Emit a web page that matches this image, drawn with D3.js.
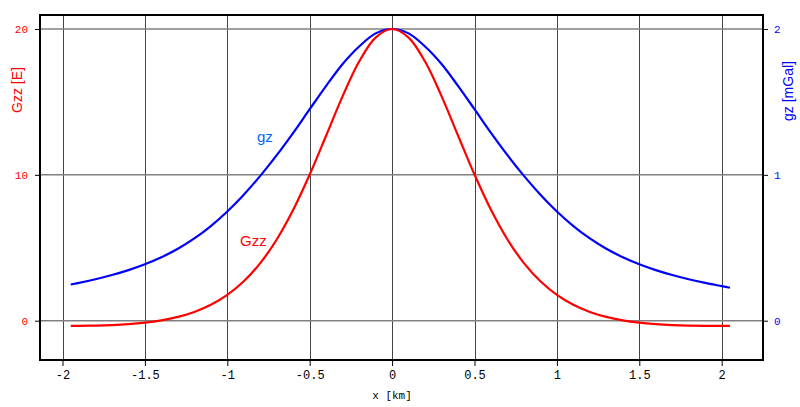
<!DOCTYPE html>
<html>
<head>
<meta charset="utf-8">
<script src="https://cdn.jsdelivr.net/npm/d3@7"></script>
<style>
  body { margin: 0; background: #fff; }
  svg { display: block; }
</style>
</head>
<body>
<div id="chart"></div>
<script>

/* - - - data - - - */

var xKm = [-1.95, -1.9, -1.8, -1.7, -1.6, -1.5, -1.4, -1.3, -1.2, -1.1, -1.0,
           -0.9, -0.8, -0.7, -0.6, -0.5, -0.4, -0.3, -0.2, -0.1, 0,
           0.1, 0.2, 0.3, 0.4, 0.5, 0.6, 0.7, 0.8, 0.9, 1.0,
           1.1, 1.2, 1.3, 1.4, 1.5, 1.6, 1.7, 1.8, 1.9, 2.0, 2.05];

var gzz = [-0.357, -0.353, -0.335, -0.298, -0.234, -0.131, 0.027, 0.261, 0.602, 1.09, 1.77,
           2.70, 3.95, 5.57, 7.60, 10.02, 12.70, 15.40, 17.77, 19.41, 20.0,
           19.41, 17.77, 15.40, 12.70, 10.02, 7.60, 5.57, 3.95, 2.70, 1.77,
           1.09, 0.602, 0.261, 0.027, -0.131, -0.234, -0.298, -0.335, -0.353, -0.358, -0.357];

var gz = [0.248, 0.259, 0.284, 0.313, 0.347, 0.387, 0.435, 0.493, 0.564, 0.649, 0.749,
          0.864, 0.993, 1.135, 1.288, 1.45, 1.61, 1.76, 1.88, 1.97, 2.0,
          1.97, 1.88, 1.76, 1.61, 1.45, 1.288, 1.135, 0.993, 0.864, 0.749,
          0.649, 0.564, 0.493, 0.435, 0.387, 0.347, 0.313, 0.284, 0.259, 0.237, 0.226];

var xTicks = [-2, -1.5, -1, -0.5, 0, 0.5, 1, 1.5, 2];
var gzzTicks = [0, 10, 20];
var gzTicks = [0, 1, 2];

/* - - - svg - - - */

var width = 800, height = 407;
var box = { left: 40, top: 15, right: 763, bottom: 360 };

var svg = d3.select('#chart')
            .append('svg')
            .attr('width', width)
            .attr('height', height);

var x = d3.scaleLinear().domain([-2, 2]).range([62.5, 721.7]);
var yL = d3.scaleLinear().domain([0, 20]).range([320.7, 29]);
var yR = d3.scaleLinear().domain([0, 2]).range([320.7, 29]);

// grid
svg.append('g').selectAll('line')
   .data(xTicks)
   .enter()
   .append('line')
   .attr('x1', function (d) { return Math.round(x(d)) + 0.5; })
   .attr('x2', function (d) { return Math.round(x(d)) + 0.5; })
   .attr('y1', box.top)
   .attr('y2', box.bottom)
   .attr('stroke', '#444')
   .attr('stroke-width', 1);

svg.append('g').selectAll('line')
   .data(gzzTicks)
   .enter()
   .append('line')
   .attr('x1', box.left)
   .attr('x2', box.right)
   .attr('y1', function (d) { return yL(d); })
   .attr('y2', function (d) { return yL(d); })
   .attr('stroke', '#808080')
   .attr('stroke-width', 1.5);

// axes
var font = '"Liberation Mono", "DejaVu Sans Mono", monospace';

var xAxis = svg.append('g')
   .attr('transform', 'translate(0,' + box.bottom + ')')
   .call(d3.axisBottom(x).tickValues(xTicks).tickSize(6).tickPadding(4)
           .tickFormat(function (d) { return String(d); }));
xAxis.select('.domain').remove();
xAxis.selectAll('line').attr('stroke', '#000');
xAxis.selectAll('text').attr('font-family', font).attr('font-size', 12).attr('fill', '#000');

var leftAxis = svg.append('g')
   .attr('transform', 'translate(' + box.left + ',0)')
   .call(d3.axisLeft(yL).tickValues(gzzTicks).tickSize(5).tickPadding(7)
           .tickFormat(function (d) { return String(d); }));
leftAxis.select('.domain').remove();
leftAxis.selectAll('line').attr('stroke', '#000');
leftAxis.selectAll('text').attr('font-family', font).attr('font-size', 11).attr('fill', '#ff0000');

var rightAxis = svg.append('g')
   .attr('transform', 'translate(' + box.right + ',0)')
   .call(d3.axisRight(yR).tickValues(gzTicks).tickSize(5).tickPadding(6)
           .tickFormat(function (d) { return String(d); }));
rightAxis.select('.domain').remove();
rightAxis.selectAll('line').attr('stroke', '#000');
rightAxis.selectAll('text').attr('font-family', font).attr('font-size', 11).attr('fill', '#0000ff');

// curves
var gzLine = d3.line()
   .x(function (d, i) { return x(xKm[i]); })
   .y(function (d) { return yR(d); })
   .curve(d3.curveCatmullRom);

var gzzLine = d3.line()
   .x(function (d, i) { return x(xKm[i]); })
   .y(function (d) { return yL(d); })
   .curve(d3.curveCatmullRom);

svg.append('path')
   .attr('d', gzLine(gz))
   .attr('fill', 'none')
   .attr('stroke', '#0000ff')
   .attr('stroke-width', 2.2);

svg.append('path')
   .attr('d', gzzLine(gzz))
   .attr('fill', 'none')
   .attr('stroke', '#ff0000')
   .attr('stroke-width', 2.2);

// frame
svg.append('rect')
   .attr('x', box.left)
   .attr('y', box.top)
   .attr('width', box.right - box.left)
   .attr('height', box.bottom - box.top)
   .attr('fill', 'none')
   .attr('stroke', '#000')
   .attr('stroke-width', 2);

// labels
var sans = 'Arial, "Liberation Sans", sans-serif';

svg.append('text')
   .attr('transform', 'translate(22,90) rotate(-90)')
   .attr('text-anchor', 'middle')
   .attr('font-family', sans)
   .attr('font-size', 14)
   .attr('fill', '#ff0000')
   .text('Gzz [E]');

svg.append('text')
   .attr('transform', 'translate(793,91) rotate(-90)')
   .attr('text-anchor', 'middle')
   .attr('font-family', sans)
   .attr('font-size', 14)
   .attr('fill', '#0000ff')
   .text('gz [mGal]');

svg.append('text')
   .attr('x', 392)
   .attr('y', 399)
   .attr('text-anchor', 'middle')
   .attr('font-family', font)
   .attr('font-size', 11)
   .attr('fill', '#000')
   .text('x [km]');

svg.append('text')
   .attr('x', 257)
   .attr('y', 142)
   .attr('font-family', sans)
   .attr('font-size', 15)
   .attr('fill', '#0066ff')
   .text('gz');

svg.append('text')
   .attr('x', 240)
   .attr('y', 246)
   .attr('font-family', sans)
   .attr('font-size', 15)
   .attr('fill', '#ff0000')
   .text('Gzz');

</script>
</body>
</html>
